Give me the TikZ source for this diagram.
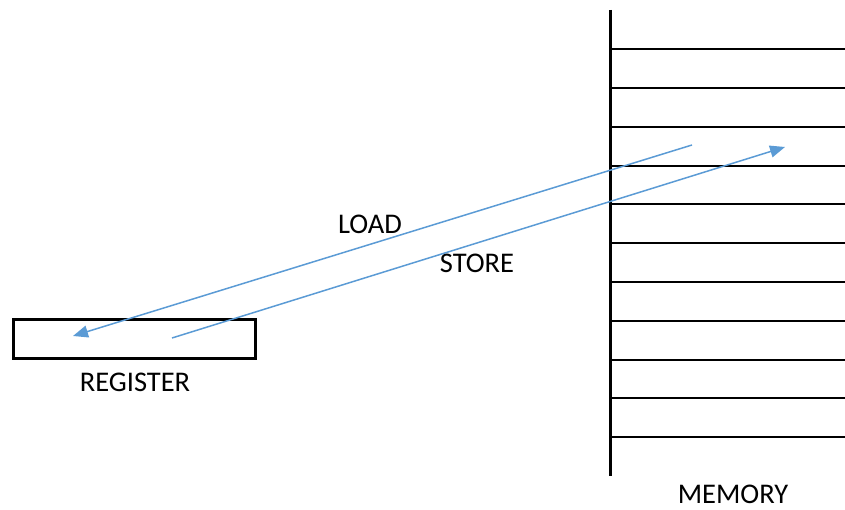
\documentclass[tikz,border=0pt]{standalone}
\usepackage{fontspec}
\setmainfont{Carlito}
\usetikzlibrary{arrows.meta}
\definecolor{arrowblue}{HTML}{5B9BD5}
\begin{document}
\begin{tikzpicture}[x=1pt,y=-1pt,
  lbl/.style={font=\fontsize{28.5}{32}\selectfont, inner sep=0pt, anchor=center},
  regbox/.style={draw=black, line width=3pt, minimum width=242pt, minimum height=39pt, inner sep=0pt},
  memwall/.style={line width=3.5pt, black},
  memrow/.style={line width=2pt, black},
  flow/.style={draw=arrowblue, line width=1.5pt, -{Triangle[length=15pt,width=12pt]}}
]
\useasboundingbox (0,0) rectangle (845,510);
\node[regbox] (reg) at (134,339) {};
\node[lbl] (regl) at (135,382) {REGISTER};
\node[lbl] (meml) at (733,494) {MEMORY};
\node[lbl] (loadl) at (370,224) {LOAD};
\node[lbl] (storel) at (477,263) {STORE};
\draw[memwall] (610.5,10) -- (610.5,476);
\foreach \i in {0,...,10}{
  \draw[memrow] (612,{49.5+38.75*\i}) -- (845,{49.5+38.75*\i});
}
\coordinate (loadS) at (692,145);
\coordinate (loadE) at (73,336);
\coordinate (storeS) at (172,338);
\coordinate (storeE) at (785,147);
\draw[flow] (loadS) -- (loadE);
\draw[flow] (storeS) -- (storeE);
\end{tikzpicture}
\end{document}
